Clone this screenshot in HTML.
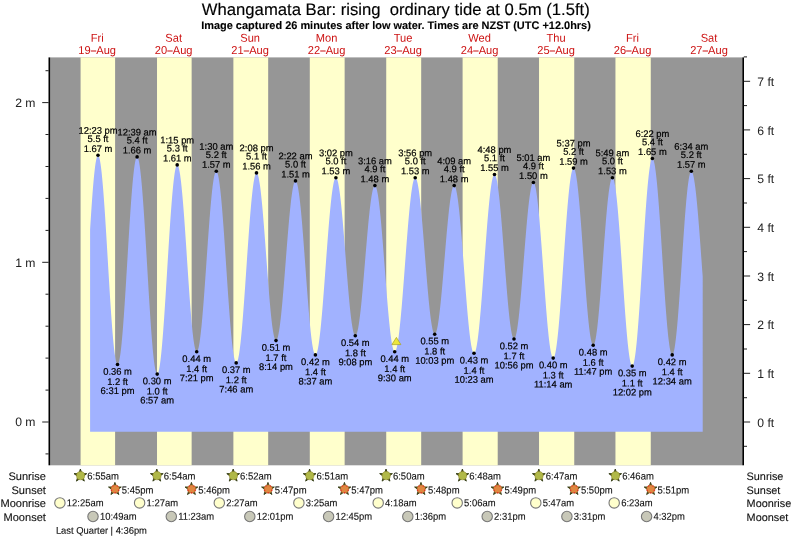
<!DOCTYPE html>
<html><head><meta charset="utf-8"><style>
html,body{margin:0;padding:0;background:#fff;}
svg{display:block;text-rendering:geometricPrecision;font-family:"Liberation Sans",sans-serif;}
</style></head><body>
<svg width="793" height="539" viewBox="0 0 793 539">
<rect width="793" height="539" fill="#fff"/>
<defs><filter id="idf" x="0" y="0" width="793" height="539" filterUnits="userSpaceOnUse"><feOffset dx="0" dy="0"/></filter></defs><g filter="url(#idf)"><rect x="50.2" y="57.4" width="692.0999999999999" height="407.90000000000003" fill="#969696"/>
<rect x="80.58" y="57.4" width="34.52" height="407.90000000000003" fill="#ffffcc"/>
<rect x="157.01" y="57.4" width="34.63" height="407.90000000000003" fill="#ffffcc"/>
<rect x="233.38" y="57.4" width="34.79" height="407.90000000000003" fill="#ffffcc"/>
<rect x="309.80" y="57.4" width="34.84" height="407.90000000000003" fill="#ffffcc"/>
<rect x="386.23" y="57.4" width="34.95" height="407.90000000000003" fill="#ffffcc"/>
<rect x="462.60" y="57.4" width="35.11" height="407.90000000000003" fill="#ffffcc"/>
<rect x="539.03" y="57.4" width="35.21" height="407.90000000000003" fill="#ffffcc"/>
<rect x="615.45" y="57.4" width="35.32" height="407.90000000000003" fill="#ffffcc"/>
<path d="M90.1,431.8L90.10,229.55L90.60,221.54L91.10,213.79L91.60,206.35L92.10,199.26L92.60,192.57L93.10,186.33L93.60,180.57L94.10,175.33L94.60,170.64L95.10,166.54L95.60,163.04L96.10,160.17L96.60,157.95L97.10,156.40L97.60,155.52L98.10,155.31L98.60,155.79L99.10,156.93L99.60,158.74L100.10,161.21L100.60,164.31L101.10,168.03L101.60,172.34L102.10,177.22L102.60,182.63L103.10,188.54L103.60,194.91L104.10,201.70L104.60,208.87L105.10,216.37L105.60,224.15L106.10,232.16L106.60,240.34L107.10,248.66L107.60,257.04L108.10,265.45L108.60,273.82L109.10,282.10L109.60,290.24L110.10,298.18L110.60,305.87L111.10,313.27L111.60,320.32L112.10,326.98L112.60,333.21L113.10,338.96L113.60,344.21L114.10,348.91L114.60,353.03L115.10,356.56L115.60,359.46L116.10,361.71L116.60,363.31L117.10,364.25L117.60,364.50L118.10,364.09L118.60,363.01L119.10,361.26L119.60,358.87L120.10,355.84L120.60,352.20L121.11,347.97L121.61,343.18L122.11,337.85L122.61,332.02L123.11,325.74L123.61,319.03L124.11,311.95L124.61,304.53L125.11,296.83L125.61,288.90L126.11,280.79L126.61,272.55L127.11,264.23L127.61,255.89L128.11,247.58L128.61,239.35L129.11,231.26L129.61,223.37L130.11,215.71L130.61,208.34L131.11,201.31L131.61,194.67L132.11,188.45L132.61,182.70L133.11,177.45L133.61,172.74L134.11,168.60L134.61,165.05L135.11,162.12L135.61,159.83L136.11,158.19L136.61,157.21L137.11,156.90L137.61,157.25L138.11,158.27L138.61,159.95L139.11,162.27L139.61,165.22L140.11,168.79L140.61,172.95L141.11,177.67L141.61,182.94L142.11,188.70L142.61,194.94L143.11,201.61L143.61,208.67L144.11,216.08L144.61,223.79L145.11,231.76L145.61,239.93L146.11,248.26L146.61,256.70L147.11,265.19L147.61,273.68L148.11,282.12L148.61,290.46L149.11,298.64L149.61,306.62L150.11,314.36L150.61,321.79L151.11,328.88L151.61,335.58L152.11,341.85L152.61,347.65L153.11,352.95L153.61,357.72L154.11,361.92L154.61,365.53L155.11,368.52L155.61,370.89L156.11,372.61L156.61,373.68L157.11,374.09L157.61,373.84L158.11,372.95L158.61,371.42L159.11,369.28L159.61,366.52L160.11,363.17L160.61,359.24L161.11,354.77L161.61,349.77L162.11,344.29L162.61,338.34L163.11,331.97L163.61,325.22L164.11,318.13L164.61,310.75L165.11,303.10L165.61,295.26L166.11,287.25L166.61,279.14L167.11,270.97L167.61,262.79L168.11,254.65L168.61,246.60L169.11,238.69L169.61,230.97L170.11,223.48L170.61,216.28L171.11,209.40L171.61,202.89L172.11,196.79L172.61,191.13L173.11,185.95L173.61,181.29L174.11,177.16L174.61,173.60L175.11,170.62L175.61,168.25L176.11,166.51L176.61,165.39L177.11,164.90L177.61,165.05L178.11,165.81L178.61,167.18L179.11,169.13L179.61,171.67L180.11,174.78L180.61,178.43L181.11,182.60L181.61,187.27L182.12,192.40L182.62,197.96L183.12,203.92L183.62,210.23L184.12,216.85L184.62,223.75L185.12,230.87L185.62,238.17L186.12,245.60L186.62,253.11L187.12,260.66L187.62,268.19L188.12,275.66L188.62,283.02L189.12,290.21L189.62,297.19L190.12,303.93L190.62,310.36L191.12,316.45L191.62,322.17L192.12,327.46L192.62,332.31L193.12,336.67L193.62,340.52L194.12,343.84L194.62,346.59L195.12,348.77L195.62,350.36L196.12,351.35L196.62,351.73L197.12,351.51L197.62,350.71L198.12,349.34L198.62,347.41L199.12,344.92L199.62,341.90L200.12,338.37L200.62,334.33L201.12,329.83L201.62,324.90L202.12,319.55L202.62,313.83L203.12,307.78L203.62,301.43L204.12,294.82L204.62,288.00L205.12,281.01L205.62,273.89L206.12,266.69L206.62,259.46L207.12,252.24L207.62,245.09L208.12,238.03L208.62,231.13L209.12,224.43L209.62,217.96L210.12,211.77L210.62,205.90L211.12,200.39L211.62,195.27L212.12,190.57L212.62,186.33L213.12,182.58L213.62,179.33L214.12,176.61L214.62,174.43L215.12,172.82L215.62,171.77L216.12,171.30L216.62,171.41L217.12,172.11L217.62,173.41L218.12,175.28L218.62,177.71L219.12,180.71L219.62,184.23L220.12,188.27L220.62,192.80L221.12,197.78L221.62,203.19L222.12,209.00L222.62,215.17L223.12,221.66L223.62,228.43L224.12,235.44L224.62,242.65L225.12,250.01L225.62,257.47L226.12,264.99L226.62,272.53L227.12,280.03L227.62,287.45L228.12,294.75L228.62,301.87L229.12,308.78L229.62,315.43L230.12,321.79L230.62,327.80L231.12,333.44L231.62,338.67L232.12,343.45L232.62,347.77L233.12,351.58L233.62,354.87L234.12,357.62L234.62,359.81L235.12,361.42L235.62,362.45L236.12,362.89L236.62,362.75L237.12,362.03L237.62,360.76L238.12,358.92L238.62,356.54L239.12,353.63L239.62,350.20L240.12,346.28L240.62,341.89L241.12,337.06L241.62,331.81L242.12,326.18L242.62,320.20L243.12,313.91L243.63,307.34L244.13,300.54L244.63,293.54L245.13,286.38L245.63,279.11L246.13,271.78L246.63,264.43L247.13,257.09L247.63,249.82L248.13,242.66L248.63,235.65L249.13,228.83L249.63,222.24L250.13,215.93L250.63,209.93L251.13,204.28L251.63,199.01L252.13,194.15L252.63,189.74L253.13,185.79L253.63,182.34L254.13,179.39L254.63,176.98L255.13,175.11L255.63,173.80L256.13,173.06L256.63,172.88L257.13,173.25L257.63,174.17L258.13,175.63L258.63,177.62L259.13,180.13L259.63,183.13L260.13,186.62L260.63,190.56L261.13,194.93L261.63,199.71L262.13,204.86L262.63,210.35L263.13,216.14L263.63,222.20L264.13,228.48L264.63,234.95L265.13,241.55L265.63,248.26L266.13,255.02L266.63,261.80L267.13,268.54L267.63,275.20L268.13,281.74L268.63,288.12L269.13,294.29L269.63,300.22L270.13,305.87L270.63,311.19L271.13,316.16L271.63,320.74L272.13,324.90L272.63,328.61L273.13,331.86L273.63,334.62L274.13,336.86L274.63,338.59L275.13,339.78L275.63,340.42L276.13,340.53L276.63,340.11L277.13,339.17L277.63,337.73L278.13,335.80L278.63,333.37L279.13,330.48L279.63,327.14L280.13,323.37L280.63,319.19L281.13,314.64L281.63,309.73L282.13,304.52L282.63,299.01L283.13,293.26L283.63,287.31L284.13,281.17L284.63,274.91L285.13,268.55L285.63,262.15L286.13,255.73L286.63,249.35L287.13,243.04L287.63,236.84L288.13,230.80L288.63,224.95L289.13,219.34L289.63,213.99L290.13,208.94L290.63,204.22L291.13,199.87L291.63,195.92L292.13,192.38L292.63,189.28L293.13,186.64L293.63,184.49L294.13,182.82L294.63,181.66L295.13,181.00L295.63,180.87L296.13,181.26L296.63,182.20L297.13,183.67L297.63,185.66L298.13,188.16L298.63,191.16L299.13,194.64L299.63,198.57L300.13,202.94L300.63,207.70L301.13,212.85L301.63,218.33L302.13,224.12L302.63,230.19L303.13,236.49L303.63,242.98L304.13,249.63L304.64,256.39L305.14,263.23L305.64,270.09L306.14,276.94L306.64,283.73L307.14,290.43L307.64,296.98L308.14,303.35L308.64,309.51L309.14,315.40L309.64,321.00L310.14,326.27L310.64,331.17L311.14,335.69L311.64,339.78L312.14,343.42L312.64,346.59L313.14,349.28L313.64,351.45L314.14,353.11L314.64,354.24L315.14,354.83L315.64,354.88L316.14,354.41L316.64,353.41L317.14,351.91L317.64,349.89L318.14,347.39L318.64,344.40L319.14,340.95L319.64,337.07L320.14,332.76L320.64,328.07L321.14,323.01L321.64,317.61L322.14,311.91L322.64,305.94L323.14,299.74L323.64,293.34L324.14,286.78L324.64,280.11L325.14,273.34L325.64,266.54L326.14,259.74L326.64,252.97L327.14,246.29L327.64,239.72L328.14,233.30L328.64,227.09L329.14,221.10L329.64,215.38L330.14,209.96L330.64,204.88L331.14,200.15L331.64,195.82L332.14,191.90L332.64,188.42L333.14,185.40L333.64,182.86L334.14,180.81L334.64,179.26L335.14,178.23L335.64,177.72L336.14,177.73L336.64,178.25L337.14,179.29L337.64,180.84L338.14,182.87L338.64,185.40L339.14,188.38L339.64,191.81L340.14,195.67L340.64,199.92L341.14,204.55L341.64,209.52L342.14,214.79L342.64,220.34L343.14,226.12L343.64,232.11L344.14,238.25L344.64,244.52L345.14,250.87L345.64,257.25L346.14,263.63L346.64,269.96L347.14,276.21L347.64,282.33L348.14,288.29L348.64,294.04L349.14,299.54L349.64,304.76L350.14,309.68L350.64,314.24L351.14,318.43L351.64,322.22L352.14,325.58L352.64,328.48L353.14,330.92L353.64,332.88L354.14,334.34L354.64,335.29L355.14,335.73L355.64,335.66L356.14,335.10L356.64,334.07L357.14,332.56L357.64,330.58L358.14,328.16L358.64,325.29L359.14,322.01L359.64,318.34L360.14,314.29L360.64,309.90L361.14,305.19L361.64,300.19L362.14,294.94L362.64,289.46L363.14,283.80L363.64,278.00L364.14,272.07L364.64,266.08L365.14,260.05L365.64,254.03L366.15,248.05L366.65,242.15L367.15,236.37L367.65,230.74L368.15,225.31L368.65,220.11L369.15,215.17L369.65,210.53L370.15,206.21L370.65,202.24L371.15,198.65L371.65,195.46L372.15,192.69L372.65,190.36L373.15,188.48L373.65,187.08L374.15,186.14L374.65,185.69L375.15,185.73L375.65,186.28L376.15,187.35L376.65,188.93L377.15,191.00L377.65,193.56L378.15,196.60L378.65,200.08L379.15,203.99L379.65,208.30L380.15,213.00L380.65,218.04L381.15,223.40L381.65,229.04L382.15,234.93L382.65,241.03L383.15,247.30L383.65,253.71L384.15,260.21L384.65,266.76L385.15,273.33L385.65,279.86L386.15,286.33L386.65,292.69L387.15,298.89L387.65,304.91L388.15,310.70L388.65,316.23L389.15,321.46L389.65,326.36L390.15,330.90L390.65,335.06L391.15,338.79L391.65,342.09L392.15,344.93L392.65,347.29L393.15,349.16L393.65,350.53L394.15,351.39L394.65,351.73L395.15,351.55L395.65,350.86L396.15,349.67L396.65,347.98L397.15,345.80L397.65,343.14L398.15,340.02L398.65,336.46L399.15,332.48L399.65,328.10L400.15,323.35L400.65,318.26L401.15,312.85L401.65,307.16L402.15,301.22L402.65,295.06L403.15,288.73L403.65,282.25L404.15,275.67L404.65,269.03L405.15,262.36L405.65,255.71L406.15,249.11L406.65,242.60L407.15,236.22L407.65,230.00L408.15,223.99L408.65,218.22L409.15,212.73L409.65,207.53L410.15,202.68L410.65,198.18L411.15,194.08L411.65,190.39L412.15,187.14L412.65,184.34L413.15,182.02L413.65,180.18L414.15,178.83L414.65,178.00L415.15,177.66L415.65,177.84L416.15,178.53L416.65,179.72L417.15,181.40L417.65,183.57L418.15,186.21L418.65,189.30L419.15,192.82L419.65,196.75L420.15,201.06L420.65,205.74L421.15,210.73L421.65,216.03L422.15,221.58L422.65,227.35L423.15,233.31L423.65,239.41L424.15,245.63L424.65,251.91L425.15,258.21L425.65,264.50L426.15,270.74L426.65,276.87L427.16,282.88L427.66,288.70L428.16,294.32L428.66,299.68L429.16,304.76L429.66,309.53L430.16,313.94L430.66,317.98L431.16,321.62L431.66,324.82L432.16,327.59L432.66,329.88L433.16,331.70L433.66,333.02L434.16,333.84L434.66,334.16L435.16,333.98L435.66,333.31L436.16,332.17L436.66,330.55L437.16,328.47L437.66,325.95L438.16,322.99L438.66,319.62L439.16,315.86L439.66,311.74L440.16,307.27L440.66,302.50L441.16,297.45L441.66,292.16L442.16,286.65L442.66,280.97L443.16,275.15L443.66,269.24L444.16,263.26L444.66,257.26L445.16,251.27L445.66,245.35L446.16,239.52L446.66,233.82L447.16,228.29L447.66,222.97L448.16,217.89L448.66,213.08L449.16,208.58L449.66,204.41L450.16,200.61L450.66,197.20L451.16,194.19L451.66,191.61L452.16,189.48L452.66,187.81L453.16,186.61L453.66,185.88L454.16,185.64L454.66,185.91L455.16,186.70L455.66,188.00L456.16,189.82L456.66,192.13L457.16,194.93L457.66,198.19L458.16,201.90L458.66,206.03L459.16,210.56L459.66,215.46L460.16,220.69L460.66,226.23L461.16,232.04L461.66,238.08L462.16,244.32L462.66,250.72L463.16,257.24L463.66,263.83L464.16,270.46L464.66,277.08L465.16,283.65L465.66,290.14L466.16,296.49L466.66,302.68L467.16,308.66L467.66,314.39L468.16,319.85L468.66,324.99L469.16,329.78L469.66,334.19L470.16,338.20L470.66,341.78L471.16,344.91L471.66,347.57L472.16,349.74L472.66,351.41L473.16,352.56L473.66,353.20L474.16,353.31L474.66,352.89L475.16,351.95L475.66,350.49L476.16,348.52L476.66,346.05L477.16,343.10L477.66,339.68L478.16,335.81L478.66,331.51L479.16,326.82L479.66,321.76L480.16,316.35L480.66,310.64L481.16,304.65L481.66,298.42L482.16,291.98L482.66,285.38L483.16,278.66L483.66,271.84L484.16,264.98L484.66,258.11L485.16,251.28L485.66,244.52L486.16,237.88L486.66,231.39L487.16,225.09L487.66,219.02L488.16,213.21L488.67,207.71L489.17,202.53L489.67,197.72L490.17,193.30L490.67,189.29L491.17,185.73L491.67,182.62L492.17,180.00L492.67,177.87L493.17,176.25L493.67,175.14L494.17,174.56L494.67,174.51L495.17,174.98L495.67,175.99L496.17,177.51L496.67,179.55L497.17,182.09L497.67,185.11L498.17,188.59L498.67,192.51L499.17,196.84L499.67,201.56L500.17,206.64L500.67,212.04L501.17,217.73L501.67,223.67L502.17,229.82L502.67,236.15L503.17,242.61L503.67,249.16L504.17,255.76L504.67,262.37L505.17,268.94L505.67,275.43L506.17,281.80L506.67,288.01L507.17,294.02L507.67,299.78L508.17,305.27L508.67,310.44L509.17,315.27L509.67,319.72L510.17,323.76L510.67,327.37L511.17,330.52L511.67,333.19L512.17,335.38L512.67,337.05L513.17,338.20L513.67,338.83L514.17,338.93L514.67,338.51L515.17,337.58L515.67,336.15L516.17,334.22L516.67,331.81L517.17,328.93L517.67,325.60L518.17,321.85L518.67,317.69L519.17,313.17L519.67,308.29L520.17,303.11L520.67,297.64L521.17,291.94L521.67,286.03L522.17,279.95L522.67,273.75L523.17,267.46L523.67,261.12L524.17,254.79L524.67,248.49L525.17,242.27L525.67,236.18L526.17,230.24L526.67,224.51L527.17,219.01L527.67,213.78L528.17,208.87L528.67,204.29L529.17,200.09L529.67,196.28L530.17,192.89L530.67,189.96L531.17,187.48L531.67,185.49L532.17,183.99L532.67,182.99L533.17,182.50L533.67,182.53L534.17,183.11L534.67,184.24L535.17,185.91L535.67,188.11L536.17,190.83L536.67,194.04L537.17,197.74L537.67,201.89L538.17,206.47L538.67,211.45L539.17,216.80L539.67,222.49L540.17,228.48L540.67,234.73L541.17,241.20L541.67,247.86L542.17,254.66L542.67,261.56L543.17,268.51L543.67,275.47L544.17,282.40L544.67,289.25L545.17,295.99L545.67,302.56L546.17,308.93L546.67,315.06L547.17,320.91L547.67,326.43L548.17,331.61L548.67,336.40L549.17,340.77L549.68,344.70L550.18,348.16L550.68,351.14L551.18,353.60L551.68,355.54L552.18,356.95L552.68,357.81L553.18,358.12L553.68,357.87L554.18,357.06L554.68,355.68L555.18,353.76L555.68,351.29L556.18,348.30L556.68,344.80L557.18,340.81L557.68,336.36L558.18,331.48L558.68,326.18L559.18,320.51L559.68,314.50L560.18,308.18L560.68,301.59L561.18,294.77L561.68,287.76L562.18,280.61L562.68,273.35L563.18,266.03L563.68,258.69L564.18,251.38L564.68,244.14L565.18,237.02L565.68,230.04L566.18,223.27L566.68,216.73L567.18,210.47L567.68,204.52L568.18,198.92L568.68,193.71L569.18,188.91L569.68,184.55L570.18,180.65L570.68,177.26L571.18,174.37L571.68,172.01L572.18,170.19L572.68,168.93L573.18,168.23L573.68,168.10L574.18,168.53L574.68,169.52L575.18,171.07L575.68,173.17L576.18,175.81L576.68,178.96L577.18,182.60L577.68,186.72L578.18,191.29L578.68,196.27L579.18,201.64L579.68,207.37L580.18,213.40L580.68,219.72L581.18,226.27L581.68,233.02L582.18,239.91L582.68,246.92L583.18,253.98L583.68,261.07L584.18,268.12L584.68,275.11L585.18,281.97L585.68,288.68L586.18,295.18L586.68,301.43L587.18,307.40L587.68,313.04L588.18,318.33L588.68,323.22L589.18,327.69L589.68,331.70L590.18,335.23L590.68,338.27L591.18,340.78L591.68,342.75L592.18,344.18L592.68,345.04L593.18,345.34L593.68,345.08L594.18,344.26L594.68,342.89L595.18,340.98L595.68,338.53L596.18,335.57L596.68,332.12L597.18,328.19L597.68,323.82L598.18,319.04L598.68,313.87L599.18,308.35L599.68,302.52L600.18,296.41L600.68,290.07L601.18,283.54L601.68,276.86L602.18,270.09L602.68,263.25L603.18,256.40L603.68,249.59L604.18,242.85L604.68,236.24L605.18,229.80L605.68,223.57L606.18,217.60L606.68,211.91L607.18,206.56L607.68,201.57L608.18,196.99L608.68,192.83L609.18,189.13L609.68,185.92L610.18,183.21L610.68,181.02L611.19,179.37L611.69,178.27L612.19,177.72L612.69,177.74L613.19,178.34L613.69,179.54L614.19,181.31L614.69,183.65L615.19,186.55L615.69,189.98L616.19,193.93L616.69,198.37L617.19,203.27L617.69,208.60L618.19,214.33L618.69,220.43L619.19,226.84L619.69,233.54L620.19,240.48L620.69,247.61L621.19,254.90L621.69,262.30L622.19,269.76L622.69,277.22L623.19,284.66L623.69,292.02L624.19,299.24L624.69,306.30L625.19,313.14L625.69,319.72L626.19,326.00L626.69,331.94L627.19,337.51L627.69,342.66L628.19,347.36L628.69,351.59L629.19,355.32L629.69,358.53L630.19,361.19L630.69,363.29L631.19,364.81L631.69,365.75L632.19,366.10L632.69,365.85L633.19,364.96L633.69,363.46L634.19,361.34L634.69,358.62L635.19,355.32L635.69,351.45L636.19,347.05L636.69,342.13L637.19,336.73L637.69,330.87L638.19,324.61L638.69,317.96L639.19,310.98L639.69,303.70L640.19,296.17L640.69,288.44L641.19,280.55L641.69,272.55L642.19,264.48L642.69,256.40L643.19,248.36L643.69,240.40L644.19,232.58L644.69,224.94L645.19,217.52L645.69,210.37L646.19,203.54L646.69,197.06L647.19,190.98L647.69,185.33L648.19,180.15L648.69,175.46L649.19,171.30L649.69,167.69L650.19,164.66L650.69,162.21L651.19,160.37L651.69,159.15L652.19,158.56L652.69,158.59L653.19,159.24L653.69,160.51L654.19,162.39L654.69,164.86L655.19,167.91L655.69,171.52L656.19,175.68L656.69,180.34L657.19,185.49L657.69,191.09L658.19,197.10L658.69,203.49L659.19,210.21L659.69,217.23L660.19,224.50L660.69,231.97L661.19,239.60L661.69,247.34L662.19,255.13L662.69,262.94L663.19,270.70L663.69,278.38L664.19,285.92L664.69,293.28L665.19,300.40L665.69,307.25L666.19,313.78L666.69,319.95L667.19,325.72L667.69,331.05L668.19,335.92L668.69,340.28L669.19,344.12L669.69,347.40L670.19,350.11L670.69,352.23L671.19,353.74L671.69,354.64L672.20,354.93L672.70,354.59L673.20,353.63L673.70,352.07L674.20,349.90L674.70,347.15L675.20,343.83L675.70,339.97L676.20,335.59L676.70,330.71L677.20,325.39L677.70,319.64L678.20,313.51L678.70,307.04L679.20,300.27L679.70,293.26L680.20,286.04L680.70,278.66L681.20,271.18L681.70,263.64L682.20,256.11L682.70,248.61L683.20,241.22L683.70,233.97L684.20,226.92L684.70,220.12L685.20,213.60L685.70,207.42L686.20,201.62L686.70,196.23L687.20,191.29L687.70,186.83L688.20,182.89L688.70,179.49L689.20,176.66L689.70,174.41L690.20,172.75L690.70,171.71L691.20,171.28L691.70,171.44L692.20,172.13L692.70,173.33L693.20,175.04L693.70,177.26L694.20,179.96L694.70,183.14L695.20,186.77L695.70,190.83L696.20,195.31L696.70,200.17L697.20,205.39L697.70,210.94L698.20,216.79L698.70,222.90L699.20,229.24L699.70,235.77L700.20,242.46L700.70,249.26L701.20,256.14L701.70,263.07L702.20,269.99L702.70,276.87L702.7,431.8Z" fill="#a1b2ff"/>
<rect x="48.5" y="57.4" width="1.7" height="407.90000000000003" fill="#000"/>
<rect x="742.3" y="57.4" width="1.7" height="407.90000000000003" fill="#000"/>
<rect x="45.5" y="453.4" width="3.2" height="1" fill="#222"/>
<rect x="42.2" y="421.5" width="6.5" height="1" fill="#222"/>
<text x="35.5" y="426.3" font-size="12.2" text-anchor="end" fill="#222">0 m</text>
<rect x="45.5" y="389.6" width="3.2" height="1" fill="#222"/>
<rect x="45.5" y="357.6" width="3.2" height="1" fill="#222"/>
<rect x="45.5" y="325.7" width="3.2" height="1" fill="#222"/>
<rect x="45.5" y="293.7" width="3.2" height="1" fill="#222"/>
<rect x="42.2" y="261.8" width="6.5" height="1" fill="#222"/>
<text x="35.5" y="266.6" font-size="12.2" text-anchor="end" fill="#222">1 m</text>
<rect x="45.5" y="229.9" width="3.2" height="1" fill="#222"/>
<rect x="45.5" y="197.9" width="3.2" height="1" fill="#222"/>
<rect x="45.5" y="166.0" width="3.2" height="1" fill="#222"/>
<rect x="45.5" y="134.0" width="3.2" height="1" fill="#222"/>
<rect x="42.2" y="102.1" width="6.5" height="1" fill="#222"/>
<text x="35.5" y="106.9" font-size="12.2" text-anchor="end" fill="#222">2 m</text>
<rect x="45.5" y="70.2" width="3.2" height="1" fill="#222"/>
<rect x="743.8" y="445.8" width="3.2" height="1" fill="#222"/>
<rect x="743.8" y="421.5" width="6.3" height="1" fill="#222"/>
<text x="757.3" y="426.6" font-size="12.2" fill="#222">0 ft</text>
<rect x="743.8" y="397.2" width="3.2" height="1" fill="#222"/>
<rect x="743.8" y="372.8" width="6.3" height="1" fill="#222"/>
<text x="757.3" y="377.9" font-size="12.2" fill="#222">1 ft</text>
<rect x="743.8" y="348.5" width="3.2" height="1" fill="#222"/>
<rect x="743.8" y="324.1" width="6.3" height="1" fill="#222"/>
<text x="757.3" y="329.2" font-size="12.2" fill="#222">2 ft</text>
<rect x="743.8" y="299.8" width="3.2" height="1" fill="#222"/>
<rect x="743.8" y="275.5" width="6.3" height="1" fill="#222"/>
<text x="757.3" y="280.6" font-size="12.2" fill="#222">3 ft</text>
<rect x="743.8" y="251.1" width="3.2" height="1" fill="#222"/>
<rect x="743.8" y="226.8" width="6.3" height="1" fill="#222"/>
<text x="757.3" y="231.9" font-size="12.2" fill="#222">4 ft</text>
<rect x="743.8" y="202.5" width="3.2" height="1" fill="#222"/>
<rect x="743.8" y="178.1" width="6.3" height="1" fill="#222"/>
<text x="757.3" y="183.2" font-size="12.2" fill="#222">5 ft</text>
<rect x="743.8" y="153.8" width="3.2" height="1" fill="#222"/>
<rect x="743.8" y="129.4" width="6.3" height="1" fill="#222"/>
<text x="757.3" y="134.5" font-size="12.2" fill="#222">6 ft</text>
<rect x="743.8" y="105.1" width="3.2" height="1" fill="#222"/>
<rect x="743.8" y="80.8" width="6.3" height="1" fill="#222"/>
<text x="757.3" y="85.9" font-size="12.2" fill="#222">7 ft</text>
<rect x="743.8" y="56.4" width="3.2" height="1" fill="#222"/>
<text x="395.8" y="14.7" font-size="16.67" text-anchor="middle" fill="#000" stroke="#000" stroke-width="0.15" xml:space="preserve">Whangamata Bar: rising  ordinary tide at 0.5m (1.5ft)</text>
<text x="396" y="28.6" font-size="10.96" font-weight="bold" text-anchor="middle" fill="#000" stroke="#000" stroke-width="0.12">Image captured 26 minutes after low water. Times are NZST (UTC +12.0hrs)</text>
<text transform="translate(97.18,41.70) scale(1,1.03) rotate(0.03)" font-size="11.1" text-anchor="middle" fill="#cc1111">Fri</text>
<text transform="translate(97.18,54.10) scale(1,1.03) rotate(0.03)" font-size="11.1" text-anchor="middle" fill="#cc1111" xml:space="preserve">19  Aug</text>
<rect x="90.78" y="50.5" width="5.4" height="1.0" fill="#cc1111"/>
<text transform="translate(173.66,41.70) scale(1,1.03) rotate(0.03)" font-size="11.1" text-anchor="middle" fill="#cc1111">Sat</text>
<text transform="translate(173.66,54.10) scale(1,1.03) rotate(0.03)" font-size="11.1" text-anchor="middle" fill="#cc1111" xml:space="preserve">20  Aug</text>
<rect x="167.26" y="50.5" width="5.4" height="1.0" fill="#cc1111"/>
<text transform="translate(250.14,41.70) scale(1,1.03) rotate(0.03)" font-size="11.1" text-anchor="middle" fill="#cc1111">Sun</text>
<text transform="translate(250.14,54.10) scale(1,1.03) rotate(0.03)" font-size="11.1" text-anchor="middle" fill="#cc1111" xml:space="preserve">21  Aug</text>
<rect x="243.74" y="50.5" width="5.4" height="1.0" fill="#cc1111"/>
<text transform="translate(326.61,41.70) scale(1,1.03) rotate(0.03)" font-size="11.1" text-anchor="middle" fill="#cc1111">Mon</text>
<text transform="translate(326.61,54.10) scale(1,1.03) rotate(0.03)" font-size="11.1" text-anchor="middle" fill="#cc1111" xml:space="preserve">22  Aug</text>
<rect x="320.21" y="50.5" width="5.4" height="1.0" fill="#cc1111"/>
<text transform="translate(403.09,41.70) scale(1,1.03) rotate(0.03)" font-size="11.1" text-anchor="middle" fill="#cc1111">Tue</text>
<text transform="translate(403.09,54.10) scale(1,1.03) rotate(0.03)" font-size="11.1" text-anchor="middle" fill="#cc1111" xml:space="preserve">23  Aug</text>
<rect x="396.69" y="50.5" width="5.4" height="1.0" fill="#cc1111"/>
<text transform="translate(479.57,41.70) scale(1,1.03) rotate(0.03)" font-size="11.1" text-anchor="middle" fill="#cc1111">Wed</text>
<text transform="translate(479.57,54.10) scale(1,1.03) rotate(0.03)" font-size="11.1" text-anchor="middle" fill="#cc1111" xml:space="preserve">24  Aug</text>
<rect x="473.17" y="50.5" width="5.4" height="1.0" fill="#cc1111"/>
<text transform="translate(556.05,41.70) scale(1,1.03) rotate(0.03)" font-size="11.1" text-anchor="middle" fill="#cc1111">Thu</text>
<text transform="translate(556.05,54.10) scale(1,1.03) rotate(0.03)" font-size="11.1" text-anchor="middle" fill="#cc1111" xml:space="preserve">25  Aug</text>
<rect x="549.65" y="50.5" width="5.4" height="1.0" fill="#cc1111"/>
<text transform="translate(632.53,41.70) scale(1,1.03) rotate(0.03)" font-size="11.1" text-anchor="middle" fill="#cc1111">Fri</text>
<text transform="translate(632.53,54.10) scale(1,1.03) rotate(0.03)" font-size="11.1" text-anchor="middle" fill="#cc1111" xml:space="preserve">26  Aug</text>
<rect x="626.13" y="50.5" width="5.4" height="1.0" fill="#cc1111"/>
<text transform="translate(709.01,41.70) scale(1,1.03) rotate(0.03)" font-size="11.1" text-anchor="middle" fill="#cc1111">Sat</text>
<text transform="translate(709.01,54.10) scale(1,1.03) rotate(0.03)" font-size="11.1" text-anchor="middle" fill="#cc1111" xml:space="preserve">27  Aug</text>
<rect x="702.61" y="50.5" width="5.4" height="1.0" fill="#cc1111"/>
<circle cx="98.0" cy="155.3" r="1.8" fill="#000"/>
<text transform="translate(98.00,133.80) scale(1,1.02) rotate(0.03)" font-size="9.4" text-anchor="middle" fill="#000" stroke="#000" stroke-width="0.2">12:23 pm</text>
<text transform="translate(98.00,142.00) scale(1,1.02) rotate(0.03)" font-size="9.4" text-anchor="middle" fill="#000" stroke="#000" stroke-width="0.2">5.5 ft</text>
<text transform="translate(98.00,151.90) scale(1,1.02) rotate(0.03)" font-size="9.4" text-anchor="middle" fill="#000" stroke="#000" stroke-width="0.2">1.67 m</text>
<circle cx="117.5" cy="364.5" r="1.8" fill="#000"/>
<text transform="translate(117.55,374.71) scale(1,1.02) rotate(0.03)" font-size="9.4" text-anchor="middle" fill="#000" stroke="#000" stroke-width="0.2">0.36 m</text>
<text transform="translate(117.55,384.91) scale(1,1.02) rotate(0.03)" font-size="9.4" text-anchor="middle" fill="#000" stroke="#000" stroke-width="0.2">1.2 ft</text>
<text transform="translate(117.55,394.01) scale(1,1.02) rotate(0.03)" font-size="9.4" text-anchor="middle" fill="#000" stroke="#000" stroke-width="0.2">6:31 pm</text>
<circle cx="137.1" cy="156.9" r="1.8" fill="#000"/>
<text transform="translate(137.09,135.40) scale(1,1.02) rotate(0.03)" font-size="9.4" text-anchor="middle" fill="#000" stroke="#000" stroke-width="0.2">12:39 am</text>
<text transform="translate(137.09,143.60) scale(1,1.02) rotate(0.03)" font-size="9.4" text-anchor="middle" fill="#000" stroke="#000" stroke-width="0.2">5.4 ft</text>
<text transform="translate(137.09,153.50) scale(1,1.02) rotate(0.03)" font-size="9.4" text-anchor="middle" fill="#000" stroke="#000" stroke-width="0.2">1.66 m</text>
<circle cx="157.2" cy="374.1" r="1.8" fill="#000"/>
<text transform="translate(157.17,384.29) scale(1,1.02) rotate(0.03)" font-size="9.4" text-anchor="middle" fill="#000" stroke="#000" stroke-width="0.2">0.30 m</text>
<text transform="translate(157.17,394.49) scale(1,1.02) rotate(0.03)" font-size="9.4" text-anchor="middle" fill="#000" stroke="#000" stroke-width="0.2">1.0 ft</text>
<text transform="translate(157.17,403.59) scale(1,1.02) rotate(0.03)" font-size="9.4" text-anchor="middle" fill="#000" stroke="#000" stroke-width="0.2">6:57 am</text>
<circle cx="177.2" cy="164.9" r="1.8" fill="#000"/>
<text transform="translate(177.24,143.38) scale(1,1.02) rotate(0.03)" font-size="9.4" text-anchor="middle" fill="#000" stroke="#000" stroke-width="0.2">1:15 pm</text>
<text transform="translate(177.24,151.58) scale(1,1.02) rotate(0.03)" font-size="9.4" text-anchor="middle" fill="#000" stroke="#000" stroke-width="0.2">5.3 ft</text>
<text transform="translate(177.24,161.48) scale(1,1.02) rotate(0.03)" font-size="9.4" text-anchor="middle" fill="#000" stroke="#000" stroke-width="0.2">1.61 m</text>
<circle cx="196.7" cy="351.7" r="1.8" fill="#000"/>
<text transform="translate(196.68,361.93) scale(1,1.02) rotate(0.03)" font-size="9.4" text-anchor="middle" fill="#000" stroke="#000" stroke-width="0.2">0.44 m</text>
<text transform="translate(196.68,372.13) scale(1,1.02) rotate(0.03)" font-size="9.4" text-anchor="middle" fill="#000" stroke="#000" stroke-width="0.2">1.4 ft</text>
<text transform="translate(196.68,381.23) scale(1,1.02) rotate(0.03)" font-size="9.4" text-anchor="middle" fill="#000" stroke="#000" stroke-width="0.2">7:21 pm</text>
<circle cx="216.3" cy="171.3" r="1.8" fill="#000"/>
<text transform="translate(216.28,149.77) scale(1,1.02) rotate(0.03)" font-size="9.4" text-anchor="middle" fill="#000" stroke="#000" stroke-width="0.2">1:30 am</text>
<text transform="translate(216.28,157.97) scale(1,1.02) rotate(0.03)" font-size="9.4" text-anchor="middle" fill="#000" stroke="#000" stroke-width="0.2">5.2 ft</text>
<text transform="translate(216.28,167.87) scale(1,1.02) rotate(0.03)" font-size="9.4" text-anchor="middle" fill="#000" stroke="#000" stroke-width="0.2">1.57 m</text>
<circle cx="236.2" cy="362.9" r="1.8" fill="#000"/>
<text transform="translate(236.25,373.11) scale(1,1.02) rotate(0.03)" font-size="9.4" text-anchor="middle" fill="#000" stroke="#000" stroke-width="0.2">0.37 m</text>
<text transform="translate(236.25,383.31) scale(1,1.02) rotate(0.03)" font-size="9.4" text-anchor="middle" fill="#000" stroke="#000" stroke-width="0.2">1.2 ft</text>
<text transform="translate(236.25,392.41) scale(1,1.02) rotate(0.03)" font-size="9.4" text-anchor="middle" fill="#000" stroke="#000" stroke-width="0.2">7:46 am</text>
<circle cx="256.5" cy="172.9" r="1.8" fill="#000"/>
<text transform="translate(256.53,151.37) scale(1,1.02) rotate(0.03)" font-size="9.4" text-anchor="middle" fill="#000" stroke="#000" stroke-width="0.2">2:08 pm</text>
<text transform="translate(256.53,159.57) scale(1,1.02) rotate(0.03)" font-size="9.4" text-anchor="middle" fill="#000" stroke="#000" stroke-width="0.2">5.1 ft</text>
<text transform="translate(256.53,169.47) scale(1,1.02) rotate(0.03)" font-size="9.4" text-anchor="middle" fill="#000" stroke="#000" stroke-width="0.2">1.56 m</text>
<circle cx="276.0" cy="340.6" r="1.8" fill="#000"/>
<text transform="translate(275.97,350.75) scale(1,1.02) rotate(0.03)" font-size="9.4" text-anchor="middle" fill="#000" stroke="#000" stroke-width="0.2">0.51 m</text>
<text transform="translate(275.97,360.95) scale(1,1.02) rotate(0.03)" font-size="9.4" text-anchor="middle" fill="#000" stroke="#000" stroke-width="0.2">1.7 ft</text>
<text transform="translate(275.97,370.05) scale(1,1.02) rotate(0.03)" font-size="9.4" text-anchor="middle" fill="#000" stroke="#000" stroke-width="0.2">8:14 pm</text>
<circle cx="295.5" cy="180.9" r="1.8" fill="#000"/>
<text transform="translate(295.52,159.35) scale(1,1.02) rotate(0.03)" font-size="9.4" text-anchor="middle" fill="#000" stroke="#000" stroke-width="0.2">2:22 am</text>
<text transform="translate(295.52,167.55) scale(1,1.02) rotate(0.03)" font-size="9.4" text-anchor="middle" fill="#000" stroke="#000" stroke-width="0.2">5.0 ft</text>
<text transform="translate(295.52,177.45) scale(1,1.02) rotate(0.03)" font-size="9.4" text-anchor="middle" fill="#000" stroke="#000" stroke-width="0.2">1.51 m</text>
<circle cx="315.4" cy="354.9" r="1.8" fill="#000"/>
<text transform="translate(315.43,365.13) scale(1,1.02) rotate(0.03)" font-size="9.4" text-anchor="middle" fill="#000" stroke="#000" stroke-width="0.2">0.42 m</text>
<text transform="translate(315.43,375.33) scale(1,1.02) rotate(0.03)" font-size="9.4" text-anchor="middle" fill="#000" stroke="#000" stroke-width="0.2">1.4 ft</text>
<text transform="translate(315.43,384.43) scale(1,1.02) rotate(0.03)" font-size="9.4" text-anchor="middle" fill="#000" stroke="#000" stroke-width="0.2">8:37 am</text>
<circle cx="335.9" cy="177.7" r="1.8" fill="#000"/>
<text transform="translate(335.88,156.16) scale(1,1.02) rotate(0.03)" font-size="9.4" text-anchor="middle" fill="#000" stroke="#000" stroke-width="0.2">3:02 pm</text>
<text transform="translate(335.88,164.36) scale(1,1.02) rotate(0.03)" font-size="9.4" text-anchor="middle" fill="#000" stroke="#000" stroke-width="0.2">5.0 ft</text>
<text transform="translate(335.88,174.26) scale(1,1.02) rotate(0.03)" font-size="9.4" text-anchor="middle" fill="#000" stroke="#000" stroke-width="0.2">1.53 m</text>
<circle cx="355.3" cy="335.8" r="1.8" fill="#000"/>
<text transform="translate(355.32,345.96) scale(1,1.02) rotate(0.03)" font-size="9.4" text-anchor="middle" fill="#000" stroke="#000" stroke-width="0.2">0.54 m</text>
<text transform="translate(355.32,356.16) scale(1,1.02) rotate(0.03)" font-size="9.4" text-anchor="middle" fill="#000" stroke="#000" stroke-width="0.2">1.8 ft</text>
<text transform="translate(355.32,365.26) scale(1,1.02) rotate(0.03)" font-size="9.4" text-anchor="middle" fill="#000" stroke="#000" stroke-width="0.2">9:08 pm</text>
<circle cx="374.9" cy="185.6" r="1.8" fill="#000"/>
<text transform="translate(374.86,164.14) scale(1,1.02) rotate(0.03)" font-size="9.4" text-anchor="middle" fill="#000" stroke="#000" stroke-width="0.2">3:16 am</text>
<text transform="translate(374.86,172.34) scale(1,1.02) rotate(0.03)" font-size="9.4" text-anchor="middle" fill="#000" stroke="#000" stroke-width="0.2">4.9 ft</text>
<text transform="translate(374.86,182.24) scale(1,1.02) rotate(0.03)" font-size="9.4" text-anchor="middle" fill="#000" stroke="#000" stroke-width="0.2">1.48 m</text>
<circle cx="394.7" cy="351.7" r="1.8" fill="#000"/>
<text transform="translate(394.73,361.93) scale(1,1.02) rotate(0.03)" font-size="9.4" text-anchor="middle" fill="#000" stroke="#000" stroke-width="0.2">0.44 m</text>
<text transform="translate(394.73,372.13) scale(1,1.02) rotate(0.03)" font-size="9.4" text-anchor="middle" fill="#000" stroke="#000" stroke-width="0.2">1.4 ft</text>
<text transform="translate(394.73,381.23) scale(1,1.02) rotate(0.03)" font-size="9.4" text-anchor="middle" fill="#000" stroke="#000" stroke-width="0.2">9:30 am</text>
<circle cx="415.2" cy="177.7" r="1.8" fill="#000"/>
<text transform="translate(415.23,156.16) scale(1,1.02) rotate(0.03)" font-size="9.4" text-anchor="middle" fill="#000" stroke="#000" stroke-width="0.2">3:56 pm</text>
<text transform="translate(415.23,164.36) scale(1,1.02) rotate(0.03)" font-size="9.4" text-anchor="middle" fill="#000" stroke="#000" stroke-width="0.2">5.0 ft</text>
<text transform="translate(415.23,174.26) scale(1,1.02) rotate(0.03)" font-size="9.4" text-anchor="middle" fill="#000" stroke="#000" stroke-width="0.2">1.53 m</text>
<circle cx="434.7" cy="334.2" r="1.8" fill="#000"/>
<text transform="translate(434.72,344.37) scale(1,1.02) rotate(0.03)" font-size="9.4" text-anchor="middle" fill="#000" stroke="#000" stroke-width="0.2">0.55 m</text>
<text transform="translate(434.72,354.56) scale(1,1.02) rotate(0.03)" font-size="9.4" text-anchor="middle" fill="#000" stroke="#000" stroke-width="0.2">1.8 ft</text>
<text transform="translate(434.72,363.67) scale(1,1.02) rotate(0.03)" font-size="9.4" text-anchor="middle" fill="#000" stroke="#000" stroke-width="0.2">10:03 pm</text>
<circle cx="454.2" cy="185.6" r="1.8" fill="#000"/>
<text transform="translate(454.16,164.14) scale(1,1.02) rotate(0.03)" font-size="9.4" text-anchor="middle" fill="#000" stroke="#000" stroke-width="0.2">4:09 am</text>
<text transform="translate(454.16,172.34) scale(1,1.02) rotate(0.03)" font-size="9.4" text-anchor="middle" fill="#000" stroke="#000" stroke-width="0.2">4.9 ft</text>
<text transform="translate(454.16,182.24) scale(1,1.02) rotate(0.03)" font-size="9.4" text-anchor="middle" fill="#000" stroke="#000" stroke-width="0.2">1.48 m</text>
<circle cx="474.0" cy="353.3" r="1.8" fill="#000"/>
<text transform="translate(474.02,363.53) scale(1,1.02) rotate(0.03)" font-size="9.4" text-anchor="middle" fill="#000" stroke="#000" stroke-width="0.2">0.43 m</text>
<text transform="translate(474.02,373.73) scale(1,1.02) rotate(0.03)" font-size="9.4" text-anchor="middle" fill="#000" stroke="#000" stroke-width="0.2">1.4 ft</text>
<text transform="translate(474.02,382.83) scale(1,1.02) rotate(0.03)" font-size="9.4" text-anchor="middle" fill="#000" stroke="#000" stroke-width="0.2">10:23 am</text>
<circle cx="494.5" cy="174.5" r="1.8" fill="#000"/>
<text transform="translate(494.47,152.97) scale(1,1.02) rotate(0.03)" font-size="9.4" text-anchor="middle" fill="#000" stroke="#000" stroke-width="0.2">4:48 pm</text>
<text transform="translate(494.47,161.16) scale(1,1.02) rotate(0.03)" font-size="9.4" text-anchor="middle" fill="#000" stroke="#000" stroke-width="0.2">5.1 ft</text>
<text transform="translate(494.47,171.06) scale(1,1.02) rotate(0.03)" font-size="9.4" text-anchor="middle" fill="#000" stroke="#000" stroke-width="0.2">1.55 m</text>
<circle cx="514.0" cy="339.0" r="1.8" fill="#000"/>
<text transform="translate(514.01,349.16) scale(1,1.02) rotate(0.03)" font-size="9.4" text-anchor="middle" fill="#000" stroke="#000" stroke-width="0.2">0.52 m</text>
<text transform="translate(514.01,359.36) scale(1,1.02) rotate(0.03)" font-size="9.4" text-anchor="middle" fill="#000" stroke="#000" stroke-width="0.2">1.7 ft</text>
<text transform="translate(514.01,368.46) scale(1,1.02) rotate(0.03)" font-size="9.4" text-anchor="middle" fill="#000" stroke="#000" stroke-width="0.2">10:56 pm</text>
<circle cx="533.4" cy="182.5" r="1.8" fill="#000"/>
<text transform="translate(533.40,160.95) scale(1,1.02) rotate(0.03)" font-size="9.4" text-anchor="middle" fill="#000" stroke="#000" stroke-width="0.2">5:01 am</text>
<text transform="translate(533.40,169.15) scale(1,1.02) rotate(0.03)" font-size="9.4" text-anchor="middle" fill="#000" stroke="#000" stroke-width="0.2">4.9 ft</text>
<text transform="translate(533.40,179.05) scale(1,1.02) rotate(0.03)" font-size="9.4" text-anchor="middle" fill="#000" stroke="#000" stroke-width="0.2">1.50 m</text>
<circle cx="553.2" cy="358.1" r="1.8" fill="#000"/>
<text transform="translate(553.21,368.32) scale(1,1.02) rotate(0.03)" font-size="9.4" text-anchor="middle" fill="#000" stroke="#000" stroke-width="0.2">0.40 m</text>
<text transform="translate(553.21,378.52) scale(1,1.02) rotate(0.03)" font-size="9.4" text-anchor="middle" fill="#000" stroke="#000" stroke-width="0.2">1.3 ft</text>
<text transform="translate(553.21,387.62) scale(1,1.02) rotate(0.03)" font-size="9.4" text-anchor="middle" fill="#000" stroke="#000" stroke-width="0.2">11:14 am</text>
<circle cx="573.5" cy="168.1" r="1.8" fill="#000"/>
<text transform="translate(573.55,146.58) scale(1,1.02) rotate(0.03)" font-size="9.4" text-anchor="middle" fill="#000" stroke="#000" stroke-width="0.2">5:37 pm</text>
<text transform="translate(573.55,154.78) scale(1,1.02) rotate(0.03)" font-size="9.4" text-anchor="middle" fill="#000" stroke="#000" stroke-width="0.2">5.2 ft</text>
<text transform="translate(573.55,164.68) scale(1,1.02) rotate(0.03)" font-size="9.4" text-anchor="middle" fill="#000" stroke="#000" stroke-width="0.2">1.59 m</text>
<circle cx="593.2" cy="345.3" r="1.8" fill="#000"/>
<text transform="translate(593.20,355.54) scale(1,1.02) rotate(0.03)" font-size="9.4" text-anchor="middle" fill="#000" stroke="#000" stroke-width="0.2">0.48 m</text>
<text transform="translate(593.20,365.74) scale(1,1.02) rotate(0.03)" font-size="9.4" text-anchor="middle" fill="#000" stroke="#000" stroke-width="0.2">1.6 ft</text>
<text transform="translate(593.20,374.84) scale(1,1.02) rotate(0.03)" font-size="9.4" text-anchor="middle" fill="#000" stroke="#000" stroke-width="0.2">11:47 pm</text>
<circle cx="612.4" cy="177.7" r="1.8" fill="#000"/>
<text transform="translate(612.42,156.16) scale(1,1.02) rotate(0.03)" font-size="9.4" text-anchor="middle" fill="#000" stroke="#000" stroke-width="0.2">5:49 am</text>
<text transform="translate(612.42,164.36) scale(1,1.02) rotate(0.03)" font-size="9.4" text-anchor="middle" fill="#000" stroke="#000" stroke-width="0.2">5.0 ft</text>
<text transform="translate(612.42,174.26) scale(1,1.02) rotate(0.03)" font-size="9.4" text-anchor="middle" fill="#000" stroke="#000" stroke-width="0.2">1.53 m</text>
<circle cx="632.2" cy="366.1" r="1.8" fill="#000"/>
<text transform="translate(632.23,376.31) scale(1,1.02) rotate(0.03)" font-size="9.4" text-anchor="middle" fill="#000" stroke="#000" stroke-width="0.2">0.35 m</text>
<text transform="translate(632.23,386.50) scale(1,1.02) rotate(0.03)" font-size="9.4" text-anchor="middle" fill="#000" stroke="#000" stroke-width="0.2">1.1 ft</text>
<text transform="translate(632.23,395.61) scale(1,1.02) rotate(0.03)" font-size="9.4" text-anchor="middle" fill="#000" stroke="#000" stroke-width="0.2">12:02 pm</text>
<circle cx="652.4" cy="158.5" r="1.8" fill="#000"/>
<text transform="translate(652.42,137.00) scale(1,1.02) rotate(0.03)" font-size="9.4" text-anchor="middle" fill="#000" stroke="#000" stroke-width="0.2">6:22 pm</text>
<text transform="translate(652.42,145.19) scale(1,1.02) rotate(0.03)" font-size="9.4" text-anchor="middle" fill="#000" stroke="#000" stroke-width="0.2">5.4 ft</text>
<text transform="translate(652.42,155.09) scale(1,1.02) rotate(0.03)" font-size="9.4" text-anchor="middle" fill="#000" stroke="#000" stroke-width="0.2">1.65 m</text>
<circle cx="672.2" cy="354.9" r="1.8" fill="#000"/>
<text transform="translate(672.17,365.13) scale(1,1.02) rotate(0.03)" font-size="9.4" text-anchor="middle" fill="#000" stroke="#000" stroke-width="0.2">0.42 m</text>
<text transform="translate(672.17,375.33) scale(1,1.02) rotate(0.03)" font-size="9.4" text-anchor="middle" fill="#000" stroke="#000" stroke-width="0.2">1.4 ft</text>
<text transform="translate(672.17,384.43) scale(1,1.02) rotate(0.03)" font-size="9.4" text-anchor="middle" fill="#000" stroke="#000" stroke-width="0.2">12:34 am</text>
<circle cx="691.3" cy="171.3" r="1.8" fill="#000"/>
<text transform="translate(691.29,149.77) scale(1,1.02) rotate(0.03)" font-size="9.4" text-anchor="middle" fill="#000" stroke="#000" stroke-width="0.2">6:34 am</text>
<text transform="translate(691.29,157.97) scale(1,1.02) rotate(0.03)" font-size="9.4" text-anchor="middle" fill="#000" stroke="#000" stroke-width="0.2">5.2 ft</text>
<text transform="translate(691.29,167.87) scale(1,1.02) rotate(0.03)" font-size="9.4" text-anchor="middle" fill="#000" stroke="#000" stroke-width="0.2">1.57 m</text>
<path d="M396.4,337.4 L400.9,344.6 L391.9,344.6 Z" fill="#ece63c" stroke="#a8a020" stroke-width="0.7" stroke-linejoin="round"/>
<text x="45.9" y="479.9" font-size="11.05" text-anchor="end" fill="#111" stroke="#111" stroke-width="0.12">Sunrise</text>
<text x="746.6" y="479.9" font-size="10.85" fill="#111" stroke="#111" stroke-width="0.12">Sunrise</text>
<text x="45.9" y="493.8" font-size="11.05" text-anchor="end" fill="#111" stroke="#111" stroke-width="0.12">Sunset</text>
<text x="746.6" y="493.8" font-size="10.85" fill="#111" stroke="#111" stroke-width="0.12">Sunset</text>
<text x="45.9" y="507.2" font-size="11.05" text-anchor="end" fill="#111" stroke="#111" stroke-width="0.12">Moonrise</text>
<text x="746.6" y="507.2" font-size="10.85" fill="#111" stroke="#111" stroke-width="0.12">Moonrise</text>
<text x="45.9" y="520.9" font-size="11.05" text-anchor="end" fill="#111" stroke="#111" stroke-width="0.12">Moonset</text>
<text x="746.6" y="520.9" font-size="10.85" fill="#111" stroke="#111" stroke-width="0.12">Moonset</text>
<polygon points="80.38,469.00 81.91,473.60 86.75,473.63 82.85,476.50 84.32,481.12 80.38,478.30 76.44,481.12 77.91,476.50 74.01,473.63 78.85,473.60" fill="#6a6218" stroke="#2e3810" stroke-width="0.9"/>
<circle cx="80.6" cy="475.7" r="4.1" fill="#b0b848" stroke="#8c8428" stroke-width="0.5"/>
<text transform="translate(87.28,479.40) scale(1,1.06) rotate(0.03)" font-size="9.5" fill="#111" stroke="#111" stroke-width="0.12">6:55am</text>
<polygon points="114.90,482.40 116.43,487.00 121.27,487.03 117.37,489.90 118.84,494.52 114.90,491.70 110.96,494.52 112.43,489.90 108.53,487.03 113.37,487.00" fill="#6a5218" stroke="#2e3810" stroke-width="0.9"/>
<circle cx="115.1" cy="489.1" r="4.1" fill="#e08840" stroke="#a86428" stroke-width="0.5"/>
<circle cx="117.28" cy="486.11" r="0.7" fill="#e82020"/>
<circle cx="118.62" cy="490.24" r="0.7" fill="#e82020"/>
<circle cx="115.10" cy="492.80" r="0.7" fill="#e82020"/>
<circle cx="111.58" cy="490.24" r="0.7" fill="#e82020"/>
<circle cx="112.93" cy="486.11" r="0.7" fill="#e82020"/>
<text transform="translate(121.80,493.40) scale(1,1.06) rotate(0.03)" font-size="9.5" fill="#111" stroke="#111" stroke-width="0.12">5:45pm</text>
<polygon points="156.81,469.00 158.33,473.60 163.18,473.63 159.28,476.50 160.74,481.12 156.81,478.30 152.87,481.12 154.33,476.50 150.43,473.63 155.28,473.60" fill="#6a6218" stroke="#2e3810" stroke-width="0.9"/>
<circle cx="157.0" cy="475.7" r="4.1" fill="#b0b848" stroke="#8c8428" stroke-width="0.5"/>
<text transform="translate(163.71,479.40) scale(1,1.06) rotate(0.03)" font-size="9.5" fill="#111" stroke="#111" stroke-width="0.12">6:54am</text>
<polygon points="191.43,482.40 192.96,487.00 197.81,487.03 193.91,489.90 195.37,494.52 191.43,491.70 187.50,494.52 188.96,489.90 185.06,487.03 189.91,487.00" fill="#6a5218" stroke="#2e3810" stroke-width="0.9"/>
<circle cx="191.6" cy="489.1" r="4.1" fill="#e08840" stroke="#a86428" stroke-width="0.5"/>
<circle cx="193.81" cy="486.11" r="0.7" fill="#e82020"/>
<circle cx="195.15" cy="490.24" r="0.7" fill="#e82020"/>
<circle cx="191.63" cy="492.80" r="0.7" fill="#e82020"/>
<circle cx="188.11" cy="490.24" r="0.7" fill="#e82020"/>
<circle cx="189.46" cy="486.11" r="0.7" fill="#e82020"/>
<text transform="translate(198.33,493.40) scale(1,1.06) rotate(0.03)" font-size="9.5" fill="#111" stroke="#111" stroke-width="0.12">5:46pm</text>
<polygon points="233.18,469.00 234.71,473.60 239.55,473.63 235.65,476.50 237.12,481.12 233.18,478.30 229.24,481.12 230.71,476.50 226.81,473.63 231.65,473.60" fill="#6a6218" stroke="#2e3810" stroke-width="0.9"/>
<circle cx="233.4" cy="475.7" r="4.1" fill="#b0b848" stroke="#8c8428" stroke-width="0.5"/>
<text transform="translate(240.08,479.40) scale(1,1.06) rotate(0.03)" font-size="9.5" fill="#111" stroke="#111" stroke-width="0.12">6:52am</text>
<polygon points="267.97,482.40 269.49,487.00 274.34,487.03 270.44,489.90 271.90,494.52 267.97,491.70 264.03,494.52 265.49,489.90 261.59,487.03 266.44,487.00" fill="#6a5218" stroke="#2e3810" stroke-width="0.9"/>
<circle cx="268.2" cy="489.1" r="4.1" fill="#e08840" stroke="#a86428" stroke-width="0.5"/>
<circle cx="270.34" cy="486.11" r="0.7" fill="#e82020"/>
<circle cx="271.68" cy="490.24" r="0.7" fill="#e82020"/>
<circle cx="268.17" cy="492.80" r="0.7" fill="#e82020"/>
<circle cx="264.65" cy="490.24" r="0.7" fill="#e82020"/>
<circle cx="265.99" cy="486.11" r="0.7" fill="#e82020"/>
<text transform="translate(274.87,493.40) scale(1,1.06) rotate(0.03)" font-size="9.5" fill="#111" stroke="#111" stroke-width="0.12">5:47pm</text>
<polygon points="309.60,469.00 311.13,473.60 315.98,473.63 312.08,476.50 313.54,481.12 309.60,478.30 305.67,481.12 307.13,476.50 303.23,473.63 308.08,473.60" fill="#6a6218" stroke="#2e3810" stroke-width="0.9"/>
<circle cx="309.8" cy="475.7" r="4.1" fill="#b0b848" stroke="#8c8428" stroke-width="0.5"/>
<text transform="translate(316.50,479.40) scale(1,1.06) rotate(0.03)" font-size="9.5" fill="#111" stroke="#111" stroke-width="0.12">6:51am</text>
<polygon points="344.44,482.40 345.97,487.00 350.82,487.03 346.92,489.90 348.38,494.52 344.44,491.70 340.51,494.52 341.97,489.90 338.07,487.03 342.92,487.00" fill="#6a5218" stroke="#2e3810" stroke-width="0.9"/>
<circle cx="344.6" cy="489.1" r="4.1" fill="#e08840" stroke="#a86428" stroke-width="0.5"/>
<circle cx="346.82" cy="486.11" r="0.7" fill="#e82020"/>
<circle cx="348.16" cy="490.24" r="0.7" fill="#e82020"/>
<circle cx="344.64" cy="492.80" r="0.7" fill="#e82020"/>
<circle cx="341.12" cy="490.24" r="0.7" fill="#e82020"/>
<circle cx="342.47" cy="486.11" r="0.7" fill="#e82020"/>
<text transform="translate(351.34,493.40) scale(1,1.06) rotate(0.03)" font-size="9.5" fill="#111" stroke="#111" stroke-width="0.12">5:47pm</text>
<polygon points="386.03,469.00 387.56,473.60 392.40,473.63 388.50,476.50 389.97,481.12 386.03,478.30 382.09,481.12 383.56,476.50 379.66,473.63 384.50,473.60" fill="#6a6218" stroke="#2e3810" stroke-width="0.9"/>
<circle cx="386.2" cy="475.7" r="4.1" fill="#b0b848" stroke="#8c8428" stroke-width="0.5"/>
<text transform="translate(392.93,479.40) scale(1,1.06) rotate(0.03)" font-size="9.5" fill="#111" stroke="#111" stroke-width="0.12">6:50am</text>
<polygon points="420.98,482.40 422.50,487.00 427.35,487.03 423.45,489.90 424.91,494.52 420.98,491.70 417.04,494.52 418.50,489.90 414.60,487.03 419.45,487.00" fill="#6a5218" stroke="#2e3810" stroke-width="0.9"/>
<circle cx="421.2" cy="489.1" r="4.1" fill="#e08840" stroke="#a86428" stroke-width="0.5"/>
<circle cx="423.35" cy="486.11" r="0.7" fill="#e82020"/>
<circle cx="424.69" cy="490.24" r="0.7" fill="#e82020"/>
<circle cx="421.18" cy="492.80" r="0.7" fill="#e82020"/>
<circle cx="417.66" cy="490.24" r="0.7" fill="#e82020"/>
<circle cx="419.00" cy="486.11" r="0.7" fill="#e82020"/>
<text transform="translate(427.88,493.40) scale(1,1.06) rotate(0.03)" font-size="9.5" fill="#111" stroke="#111" stroke-width="0.12">5:48pm</text>
<polygon points="462.40,469.00 463.93,473.60 468.77,473.63 464.87,476.50 466.34,481.12 462.40,478.30 458.46,481.12 459.93,476.50 456.03,473.63 460.87,473.60" fill="#6a6218" stroke="#2e3810" stroke-width="0.9"/>
<circle cx="462.6" cy="475.7" r="4.1" fill="#b0b848" stroke="#8c8428" stroke-width="0.5"/>
<text transform="translate(469.30,479.40) scale(1,1.06) rotate(0.03)" font-size="9.5" fill="#111" stroke="#111" stroke-width="0.12">6:48am</text>
<polygon points="497.51,482.40 499.03,487.00 503.88,487.03 499.98,489.90 501.44,494.52 497.51,491.70 493.57,494.52 495.03,489.90 491.13,487.03 495.98,487.00" fill="#6a5218" stroke="#2e3810" stroke-width="0.9"/>
<circle cx="497.7" cy="489.1" r="4.1" fill="#e08840" stroke="#a86428" stroke-width="0.5"/>
<circle cx="499.88" cy="486.11" r="0.7" fill="#e82020"/>
<circle cx="501.23" cy="490.24" r="0.7" fill="#e82020"/>
<circle cx="497.71" cy="492.80" r="0.7" fill="#e82020"/>
<circle cx="494.19" cy="490.24" r="0.7" fill="#e82020"/>
<circle cx="495.53" cy="486.11" r="0.7" fill="#e82020"/>
<text transform="translate(504.41,493.40) scale(1,1.06) rotate(0.03)" font-size="9.5" fill="#111" stroke="#111" stroke-width="0.12">5:49pm</text>
<polygon points="538.83,469.00 540.35,473.60 545.20,473.63 541.30,476.50 542.76,481.12 538.83,478.30 534.89,481.12 536.35,476.50 532.45,473.63 537.30,473.60" fill="#6a6218" stroke="#2e3810" stroke-width="0.9"/>
<circle cx="539.0" cy="475.7" r="4.1" fill="#b0b848" stroke="#8c8428" stroke-width="0.5"/>
<text transform="translate(545.73,479.40) scale(1,1.06) rotate(0.03)" font-size="9.5" fill="#111" stroke="#111" stroke-width="0.12">6:47am</text>
<polygon points="574.04,482.40 575.57,487.00 580.41,487.03 576.51,489.90 577.98,494.52 574.04,491.70 570.10,494.52 571.57,489.90 567.67,487.03 572.51,487.00" fill="#6a5218" stroke="#2e3810" stroke-width="0.9"/>
<circle cx="574.2" cy="489.1" r="4.1" fill="#e08840" stroke="#a86428" stroke-width="0.5"/>
<circle cx="576.41" cy="486.11" r="0.7" fill="#e82020"/>
<circle cx="577.76" cy="490.24" r="0.7" fill="#e82020"/>
<circle cx="574.24" cy="492.80" r="0.7" fill="#e82020"/>
<circle cx="570.72" cy="490.24" r="0.7" fill="#e82020"/>
<circle cx="572.06" cy="486.11" r="0.7" fill="#e82020"/>
<text transform="translate(580.94,493.40) scale(1,1.06) rotate(0.03)" font-size="9.5" fill="#111" stroke="#111" stroke-width="0.12">5:50pm</text>
<polygon points="615.25,469.00 616.78,473.60 621.62,473.63 617.72,476.50 619.19,481.12 615.25,478.30 611.31,481.12 612.78,476.50 608.88,473.63 613.72,473.60" fill="#6a6218" stroke="#2e3810" stroke-width="0.9"/>
<circle cx="615.5" cy="475.7" r="4.1" fill="#b0b848" stroke="#8c8428" stroke-width="0.5"/>
<text transform="translate(622.15,479.40) scale(1,1.06) rotate(0.03)" font-size="9.5" fill="#111" stroke="#111" stroke-width="0.12">6:46am</text>
<polygon points="650.57,482.40 652.10,487.00 656.94,487.03 653.04,489.90 654.51,494.52 650.57,491.70 646.63,494.52 648.10,489.90 644.20,487.03 649.04,487.00" fill="#6a5218" stroke="#2e3810" stroke-width="0.9"/>
<circle cx="650.8" cy="489.1" r="4.1" fill="#e08840" stroke="#a86428" stroke-width="0.5"/>
<circle cx="652.94" cy="486.11" r="0.7" fill="#e82020"/>
<circle cx="654.29" cy="490.24" r="0.7" fill="#e82020"/>
<circle cx="650.77" cy="492.80" r="0.7" fill="#e82020"/>
<circle cx="647.25" cy="490.24" r="0.7" fill="#e82020"/>
<circle cx="648.59" cy="486.11" r="0.7" fill="#e82020"/>
<text transform="translate(657.47,493.40) scale(1,1.06) rotate(0.03)" font-size="9.5" fill="#111" stroke="#111" stroke-width="0.12">5:51pm</text>
<circle cx="59.9" cy="502.9" r="5.2" fill="#ffffcc" stroke="#787878" stroke-width="1.1"/>
<text transform="translate(66.77,506.20) scale(1,1.06) rotate(0.03)" font-size="9.45" fill="#111" stroke="#111" stroke-width="0.12">12:25am</text>
<circle cx="139.6" cy="502.9" r="5.2" fill="#ffffcc" stroke="#787878" stroke-width="1.1"/>
<text transform="translate(146.54,506.20) scale(1,1.06) rotate(0.03)" font-size="9.45" fill="#111" stroke="#111" stroke-width="0.12">1:27am</text>
<circle cx="219.3" cy="502.9" r="5.2" fill="#ffffcc" stroke="#787878" stroke-width="1.1"/>
<text transform="translate(226.20,506.20) scale(1,1.06) rotate(0.03)" font-size="9.45" fill="#111" stroke="#111" stroke-width="0.12">2:27am</text>
<circle cx="298.9" cy="502.9" r="5.2" fill="#ffffcc" stroke="#787878" stroke-width="1.1"/>
<text transform="translate(305.76,506.20) scale(1,1.06) rotate(0.03)" font-size="9.45" fill="#111" stroke="#111" stroke-width="0.12">3:25am</text>
<circle cx="378.2" cy="502.9" r="5.2" fill="#ffffcc" stroke="#787878" stroke-width="1.1"/>
<text transform="translate(385.06,506.20) scale(1,1.06) rotate(0.03)" font-size="9.45" fill="#111" stroke="#111" stroke-width="0.12">4:18am</text>
<circle cx="457.2" cy="502.9" r="5.2" fill="#ffffcc" stroke="#787878" stroke-width="1.1"/>
<text transform="translate(464.08,506.20) scale(1,1.06) rotate(0.03)" font-size="9.45" fill="#111" stroke="#111" stroke-width="0.12">5:06am</text>
<circle cx="535.8" cy="502.9" r="5.2" fill="#ffffcc" stroke="#787878" stroke-width="1.1"/>
<text transform="translate(542.74,506.20) scale(1,1.06) rotate(0.03)" font-size="9.45" fill="#111" stroke="#111" stroke-width="0.12">5:47am</text>
<circle cx="614.2" cy="502.9" r="5.2" fill="#ffffcc" stroke="#787878" stroke-width="1.1"/>
<text transform="translate(621.13,506.20) scale(1,1.06) rotate(0.03)" font-size="9.45" fill="#111" stroke="#111" stroke-width="0.12">6:23am</text>
<circle cx="93.0" cy="516.5" r="5.2" fill="#c8c8b8" stroke="#787878" stroke-width="1.1"/>
<text transform="translate(99.91,519.80) scale(1,1.06) rotate(0.03)" font-size="9.45" fill="#111" stroke="#111" stroke-width="0.12">10:49am</text>
<circle cx="171.3" cy="516.5" r="5.2" fill="#c8c8b8" stroke="#787878" stroke-width="1.1"/>
<text transform="translate(178.19,519.80) scale(1,1.06) rotate(0.03)" font-size="9.45" fill="#111" stroke="#111" stroke-width="0.12">11:23am</text>
<circle cx="249.8" cy="516.5" r="5.2" fill="#c8c8b8" stroke="#787878" stroke-width="1.1"/>
<text transform="translate(256.69,519.80) scale(1,1.06) rotate(0.03)" font-size="9.45" fill="#111" stroke="#111" stroke-width="0.12">12:01pm</text>
<circle cx="328.6" cy="516.5" r="5.2" fill="#c8c8b8" stroke="#787878" stroke-width="1.1"/>
<text transform="translate(335.50,519.80) scale(1,1.06) rotate(0.03)" font-size="9.45" fill="#111" stroke="#111" stroke-width="0.12">12:45pm</text>
<circle cx="407.8" cy="516.5" r="5.2" fill="#c8c8b8" stroke="#787878" stroke-width="1.1"/>
<text transform="translate(414.69,519.80) scale(1,1.06) rotate(0.03)" font-size="9.45" fill="#111" stroke="#111" stroke-width="0.12">1:36pm</text>
<circle cx="487.2" cy="516.5" r="5.2" fill="#c8c8b8" stroke="#787878" stroke-width="1.1"/>
<text transform="translate(494.09,519.80) scale(1,1.06) rotate(0.03)" font-size="9.45" fill="#111" stroke="#111" stroke-width="0.12">2:31pm</text>
<circle cx="566.9" cy="516.5" r="5.2" fill="#c8c8b8" stroke="#787878" stroke-width="1.1"/>
<text transform="translate(573.76,519.80) scale(1,1.06) rotate(0.03)" font-size="9.45" fill="#111" stroke="#111" stroke-width="0.12">3:31pm</text>
<circle cx="646.6" cy="516.5" r="5.2" fill="#c8c8b8" stroke="#787878" stroke-width="1.1"/>
<text transform="translate(653.47,519.80) scale(1,1.06) rotate(0.03)" font-size="9.45" fill="#111" stroke="#111" stroke-width="0.12">4:32pm</text>
<text transform="translate(55.90,533.70) scale(1,1.03) rotate(0.03)" font-size="9.4" fill="#111" stroke="#111" stroke-width="0.12">Last Quarter | 4:36pm</text></g>
</svg>
</body></html>
